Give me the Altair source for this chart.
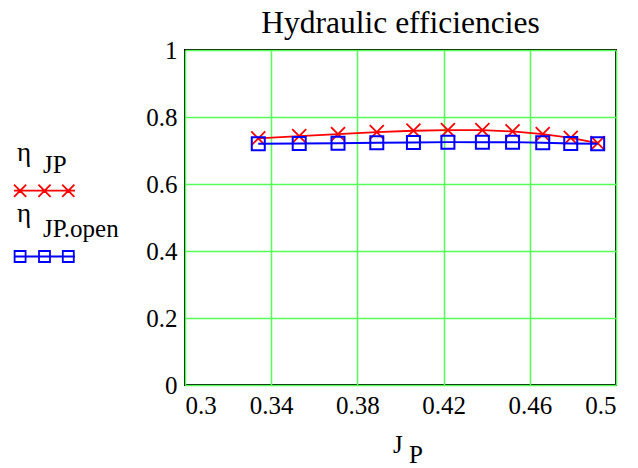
import altair as alt
import pandas as pd

# Advance coefficient J_P and the two hydraulic efficiency curves
j_p = [0.334, 0.353, 0.371, 0.389, 0.406, 0.422, 0.438, 0.452, 0.466, 0.479, 0.4915]
eta_jp = [0.736, 0.743, 0.749, 0.755, 0.759, 0.761, 0.761, 0.757, 0.749, 0.738, 0.722]
eta_jp_open = [0.720, 0.721, 0.722, 0.723, 0.724, 0.725, 0.725, 0.725, 0.723, 0.721, 0.720]

x_ticks = [0.3, 0.34, 0.38, 0.42, 0.46, 0.5]
y_ticks = [0, 0.2, 0.4, 0.6, 0.8, 1]

W, H = 431, 335
SERIF = "'Liberation Serif', 'Times New Roman', Times, serif"
RED, BLUE = "#ff0000", "#0000ff"

df = pd.DataFrame({"J": j_p, "eta_jp": eta_jp, "eta_open": eta_jp_open})

x_enc = alt.X(
    "J:Q",
    scale=alt.Scale(domain=[0.3, 0.5], nice=False, zero=False),
    axis=alt.Axis(values=x_ticks, format="~g", title=None, labelFont=SERIF),
)
y_axis = alt.Axis(values=y_ticks, format="~g", title=None, labelFont=SERIF)
y_scale = alt.Scale(domain=[0, 1], nice=False)

X_SHAPE = "M-1,-1L1,1M-1,1L1,-1"

red_line = alt.Chart(df).mark_line(color=RED, strokeWidth=1.8).encode(
    x=x_enc, y=alt.Y("eta_jp:Q", scale=y_scale, axis=y_axis)
)
red_pts = alt.Chart(df).mark_point(
    shape=X_SHAPE, size=196, color=RED, filled=False, strokeWidth=1.8, opacity=1
).encode(x=x_enc, y=alt.Y("eta_jp:Q", scale=y_scale, axis=y_axis))

blue_line = alt.Chart(df).mark_line(color=BLUE, strokeWidth=2).encode(
    x=x_enc, y=alt.Y("eta_open:Q", scale=y_scale, axis=y_axis)
)
blue_pts = alt.Chart(df).mark_point(
    shape="square", size=169, color=BLUE, filled=False, strokeWidth=2, opacity=1
).encode(x=x_enc, y=alt.Y("eta_open:Q", scale=y_scale, axis=y_axis))


def label(text, x, y, size, align="left", baseline="alphabetic"):
    return alt.Chart(pd.DataFrame({"t": [text]})).mark_text(
        font=SERIF, fontSize=size, color="black", align=align, baseline=baseline
    ).encode(text="t:N", x=alt.value(x), y=alt.value(y))


# Legend samples: a line with three markers drawn as one custom symbol
LEG_X = "M-1,0L1,0M-1,-0.2L-0.6,0.2M-1,0.2L-0.6,-0.2M-0.2,-0.2L0.2,0.2M-0.2,0.2L0.2,-0.2M0.58,-0.2L0.98,0.2M0.58,0.2L0.98,-0.2"
LEG_SQ = "M-1,0L1,0M-0.98,-0.18H-0.62V0.18H-0.98ZM-0.18,-0.18H0.18V0.18H-0.18ZM0.6,-0.18H0.96V0.18H0.6Z"


def legend_sample(path, color, y):
    return alt.Chart(pd.DataFrame({"k": [0]})).mark_point(
        shape=path, size=3721, color=color, filled=False, strokeWidth=1.8, opacity=1
    ).encode(x=alt.value(-140.5), y=alt.value(y))


layers = [
    red_line, red_pts, blue_line, blue_pts,
    label("Hydraulic efficiencies", W / 2, -17, 31.5, align="center"),
    label("J", 208, 403, 25),
    label("P", 224, 412.5, 25),
    label("η", -168, 111, 27),
    label("JP", -142, 123.3, 25),
    legend_sample(LEG_X, RED, 140.7),
    label("η", -168, 172, 27),
    label("JP.open", -142, 186.7, 25),
    legend_sample(LEG_SQ, BLUE, 206.5),
]

chart = alt.layer(*layers).properties(
    width=W,
    height=H,
    background="white",
    autosize=alt.AutoSizeParams(type="none"),
    padding={"left": 185, "top": 50, "right": 22, "bottom": 83},
).configure_view(
    stroke="black", strokeWidth=2
).configure_axis(
    labelFont=SERIF, labelFontSize=25, labelColor="black",
    ticks=False, domain=False, grid=True, gridColor="#55ff55", gridWidth=1.5,
    gridOpacity=1, labelPadding=8,
)

chart.save("out.html", embed_options={"renderer": "svg", "actions": False})
